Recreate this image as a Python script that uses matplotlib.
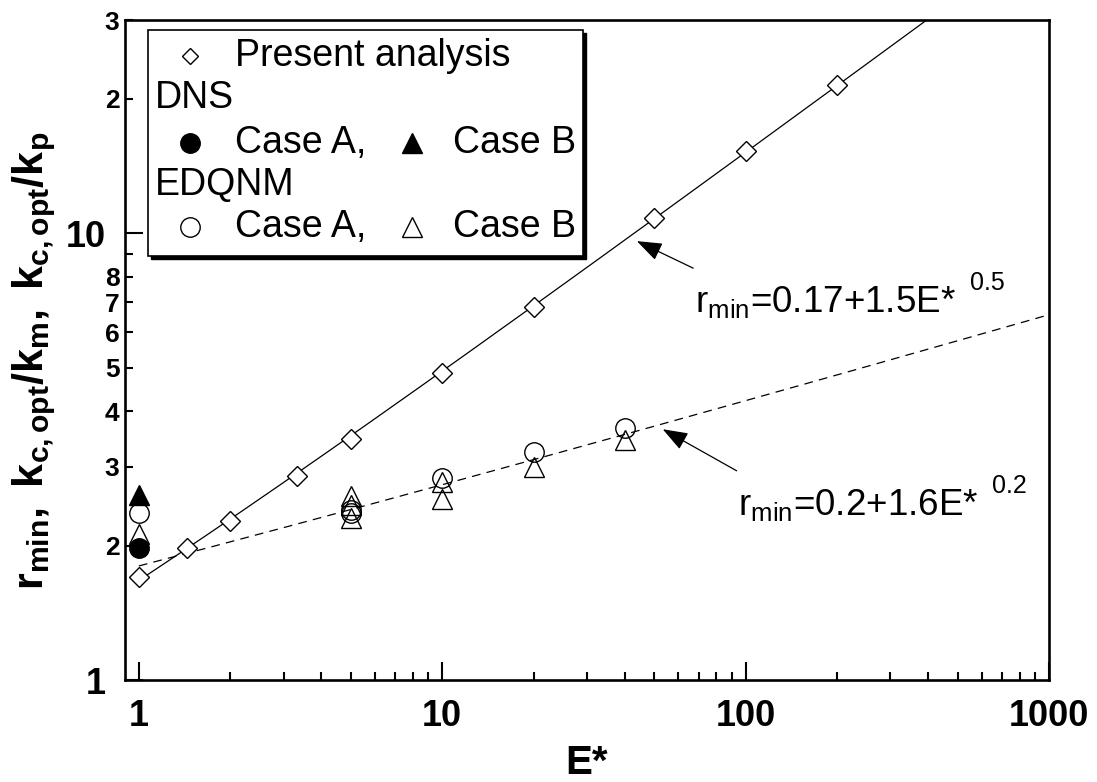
import numpy as np
import matplotlib
matplotlib.use('Agg')
import matplotlib.pyplot as plt
from matplotlib.ticker import FixedLocator, FixedFormatter, NullFormatter

plt.rcParams['font.family'] = ['Liberation Sans', 'DejaVu Sans']
plt.rcParams['mathtext.fontset'] = 'custom'
plt.rcParams['mathtext.rm'] = 'Liberation Sans'
plt.rcParams['mathtext.bf'] = 'Liberation Sans:bold'
plt.rcParams['mathtext.it'] = 'Liberation Sans:italic'

# present analysis
E_present = [1, 1.44, 2, 3.33, 5, 10, 20, 50, 100, 200]
r_present = [1.70, 1.97, 2.27, 2.86, 3.46, 4.86, 6.84, 10.8, 15.3, 21.5]

# DNS
E_dns_a = [1]
r_dns_a = [1.97]
E_dns_b = [1]
r_dns_b = [2.59]

# EDQNM
E_edq_a = [1, 5, 5, 10, 20, 40]
r_edq_a = [2.37, 2.40, 2.37, 2.83, 3.24, 3.66]
E_edq_b = [1, 5, 5, 5, 10, 10, 20, 40]
r_edq_b = [2.12, 2.58, 2.46, 2.31, 2.77, 2.54, 2.99, 3.44]

# r_min = a + b * E*^c
fit_present = (0.17, 1.5, 0.5)
fit_edqnm = (0.2, 1.6, 0.2)

fig = plt.figure(figsize=(10.97, 7.82), dpi=100)
ax = fig.add_axes([0.1139, 0.1304, 0.8423, 0.8440])
ax.set_xscale('log')
ax.set_yscale('log')
ax.set_xlim(0.9, 1000)
ax.set_ylim(1, 30)

E_fit = np.logspace(0, 3, 500)
a, b, c = fit_present
ax.plot(E_fit, a + b * E_fit ** c, color='k', lw=0.9)
a, b, c = fit_edqnm
ax.plot(E_fit, a + b * E_fit ** c, color='k', lw=0.9, dashes=(7, 5))

mk = dict(linestyle='none', color='k', markeredgewidth=1.0)
ax.plot(E_present, r_present, marker='D', ms=10.5, mfc='white', **mk)
ax.plot(E_edq_a, r_edq_a, marker='o', ms=14, mfc='none', **mk)
ax.plot(E_edq_b, r_edq_b, marker='^', ms=14, mfc='none', **mk)
ax.plot(E_dns_a, r_dns_a, marker='o', ms=14, mfc='k', **mk)
ax.plot(E_dns_b, r_dns_b, marker='^', ms=14, mfc='k', **mk)

# axes, ticks
for s in ax.spines.values():
    s.set_linewidth(1.9)
ax.tick_params(which='both', direction='in', width=1.5)
ax.tick_params(which='major', length=13)
ax.tick_params(which='minor', length=6)
ax.tick_params(axis='x', which='major', labelsize=26, pad=14)
ax.tick_params(axis='y', which='major', labelsize=26, pad=14)
ax.tick_params(axis='y', which='minor', labelsize=19, pad=4)
ax.tick_params(top=False, right=False)

ax.xaxis.set_major_locator(FixedLocator([1, 10, 100, 1000]))
ax.xaxis.set_major_formatter(FixedFormatter(['1', '10', '100', '1000']))
ax.xaxis.set_minor_locator(FixedLocator([m * d for d in (1, 10, 100) for m in range(2, 10)]))
ax.xaxis.set_minor_formatter(NullFormatter())

ax.yaxis.set_major_locator(FixedLocator([1, 10]))
ax.yaxis.set_major_formatter(FixedFormatter(['1', '10']))
ax.yaxis.set_minor_locator(FixedLocator([2, 3, 4, 5, 6, 7, 8, 9, 20, 30]))
ax.yaxis.set_minor_formatter(FixedFormatter(['2', '3', '4', '5', '6', '7', '8', '', '2', '3']))
for lab in ax.get_xticklabels() + ax.get_yticklabels() + ax.get_yticklabels(minor=True):
    lab.set_fontweight('bold')

ax.set_xlabel('E*', fontsize=29, fontweight='bold')
ax.xaxis.set_label_coords(0.5, -0.097)
ax.set_ylabel(r'$\mathbf{r_{min},\ k_{c,opt}/k_m,\ k_{c,opt}/k_p}$', fontsize=31)
ax.yaxis.set_label_coords(-0.072, 0.483)

# fit annotations
arrow = dict(arrowstyle='-|>,head_length=0.6,head_width=0.22', color='k', lw=0.9,
             mutation_scale=26, shrinkA=0, shrinkB=0)
ax.annotate('', xy=(0.554, 0.665), xytext=(0.615, 0.624), xycoords='axes fraction',
            arrowprops=arrow)
ax.annotate('', xy=(0.582, 0.380), xytext=(0.662, 0.317), xycoords='axes fraction',
            arrowprops=arrow)
ax.text(0.617, 0.5576, r'r$_{\mathrm{min}}$=0.17+1.5E*', transform=ax.transAxes,
        fontsize=26.5, va='baseline', ha='left')
ax.text(0.9145, 0.591, '0.5', transform=ax.transAxes, fontsize=18, va='baseline')
ax.text(0.663, 0.25, r'r$_{\mathrm{min}}$=0.2+1.6E*', transform=ax.transAxes,
        fontsize=26.5, va='baseline', ha='left')
ax.text(0.938, 0.283, '0.2', transform=ax.transAxes, fontsize=18, va='baseline')

# legend box with shadow
x0, x1, y0, y1 = 0.0249, 0.4957, 0.642, 0.985
sh = plt.Rectangle((x0 + 0.003, y0 - 0.004), x1 - x0, y1 - y0, transform=ax.transAxes,
                   facecolor='k', edgecolor='k', zorder=5)
box = plt.Rectangle((x0, y0), x1 - x0, y1 - y0, transform=ax.transAxes,
                    facecolor='white', edgecolor='k', lw=1.2, zorder=6)
ax.add_patch(sh)
ax.add_patch(box)

lk = dict(transform=ax.transAxes, linestyle='none', color='k', markeredgewidth=1.0,
          zorder=7, clip_on=False)
tk = dict(transform=ax.transAxes, fontsize=27, va='center', ha='left', zorder=7)
ax.plot([0.0703], [0.9455], marker='D', ms=8, mfc='white', **lk)
ax.text(0.119, 0.9455, 'Present analysis', **tk)
ax.text(0.0325, 0.8818, 'DNS', **tk)
ax.plot([0.0703], [0.8136], marker='o', ms=14, mfc='k', **lk)
ax.text(0.119, 0.8136, 'Case A,', **tk)
ax.plot([0.3106], [0.8136], marker='^', ms=14, mfc='k', **lk)
ax.text(0.355, 0.8136, 'Case B', **tk)
ax.text(0.0325, 0.75, 'EDQNM', **tk)
ax.plot([0.0703], [0.6864], marker='o', ms=14, mfc='none', **lk)
ax.text(0.119, 0.6864, 'Case A,', **tk)
ax.plot([0.3106], [0.6864], marker='^', ms=14, mfc='none', **lk)
ax.text(0.355, 0.6864, 'Case B', **tk)

fig.savefig('out.png', dpi=100)
